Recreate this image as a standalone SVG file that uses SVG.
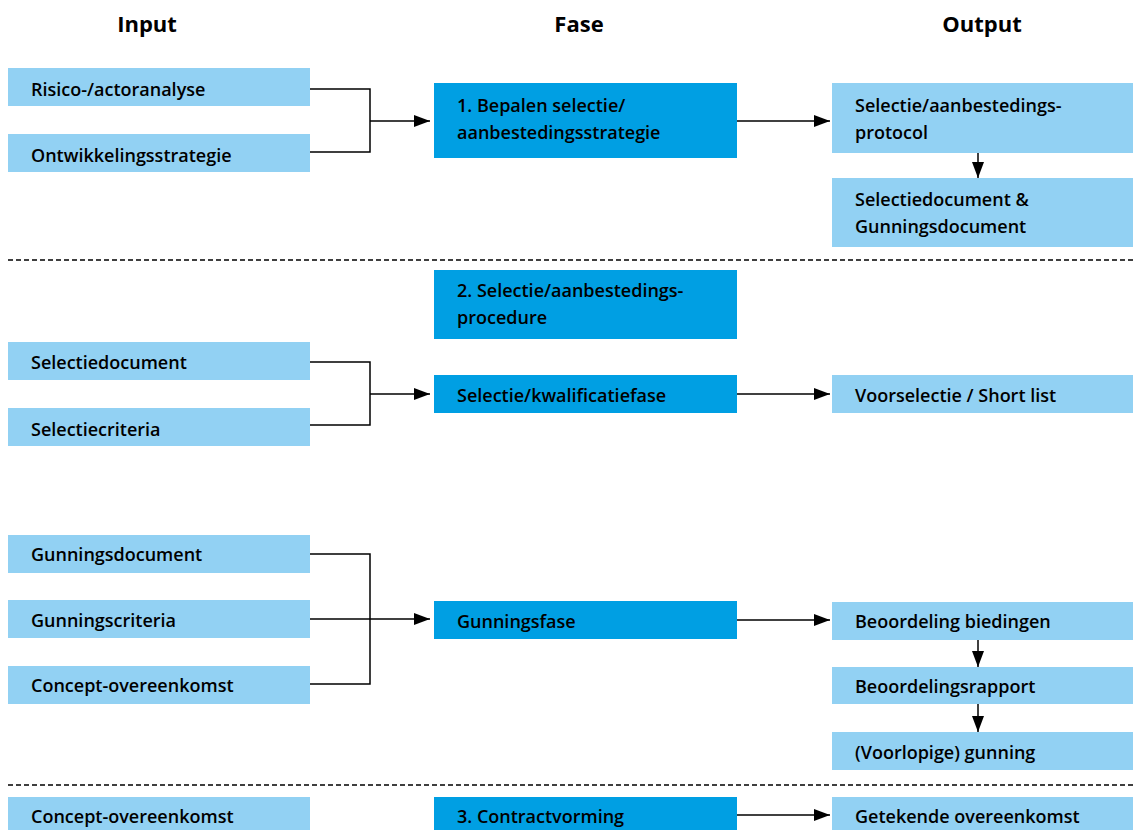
<svg xmlns="http://www.w3.org/2000/svg" width="1133" height="830" viewBox="0 0 1133 830">
<style>
.in{fill:#92d1f3}
.ph{fill:#009fe3}
.t{font-family:"Open Sans","Noto Sans","Liberation Sans",sans-serif;font-weight:600;font-size:18px;fill:#000}
.h{font-family:"Open Sans","Noto Sans","Liberation Sans",sans-serif;font-weight:700;font-size:22px;fill:#000;text-anchor:middle}
.c{fill:none;stroke:#000;stroke-width:1.5}
.d{fill:none;stroke:#000;stroke-width:1.5;stroke-dasharray:5 3}
</style>
<defs>
<marker id="ah" viewBox="0 0 16 12" refX="16" refY="6" markerWidth="16" markerHeight="12" markerUnits="userSpaceOnUse" orient="auto">
<path d="M0,0 L16,6 L0,12 Z" fill="#000"/>
</marker>
</defs>
<rect width="1133" height="830" fill="#fff"/>
<g id="headers">
<text class="h" x="147" y="32">Input</text>
<text class="h" x="579" y="32">Fase</text>
<text class="h" x="982" y="32">Output</text>
</g>
<g id="separators">
<line class="d" x1="8" y1="260" x2="1133" y2="260"/>
<line class="d" x1="8" y1="785" x2="1133" y2="785"/>
</g>
<g id="n-risico"><rect class="in" x="8" y="68" width="302" height="38"/><text class="t" x="31" y="96">Risico-/actoranalyse</text></g>
<g id="n-ontw"><rect class="in" x="8" y="134" width="302" height="38"/><text class="t" x="31" y="162">Ontwikkelingsstrategie</text></g>
<g id="n-fase1"><rect class="ph" x="434" y="83" width="303" height="75"/><text class="t" x="457" y="112">1. Bepalen selectie/</text><text class="t" x="457" y="139">aanbestedingsstrategie</text></g>
<g id="n-protocol"><rect class="in" x="832" y="83" width="301" height="70"/><text class="t" x="855" y="112">Selectie/aanbestedings-</text><text class="t" x="855" y="139">protocol</text></g>
<g id="n-seldoc-out"><rect class="in" x="832" y="178" width="301" height="69"/><text class="t" x="855" y="206">Selectiedocument &amp;</text><text class="t" x="855" y="233">Gunningsdocument</text></g>
<g id="n-fase2"><rect class="ph" x="434" y="270" width="303" height="69"/><text class="t" x="457" y="297">2. Selectie/aanbestedings-</text><text class="t" x="457" y="324">procedure</text></g>
<g id="n-seldoc"><rect class="in" x="8" y="342" width="302" height="38"/><text class="t" x="31" y="369">Selectiedocument</text></g>
<g id="n-selcrit"><rect class="in" x="8" y="408" width="302" height="38"/><text class="t" x="31" y="436">Selectiecriteria</text></g>
<g id="n-kwal"><rect class="ph" x="434" y="375" width="303" height="38"/><text class="t" x="457" y="402">Selectie/kwalificatiefase</text></g>
<g id="n-voorsel"><rect class="in" x="832" y="375" width="301" height="38"/><text class="t" x="855" y="402">Voorselectie / Short list</text></g>
<g id="n-gundoc"><rect class="in" x="8" y="535" width="302" height="38"/><text class="t" x="31" y="561">Gunningsdocument</text></g>
<g id="n-guncrit"><rect class="in" x="8" y="600" width="302" height="38"/><text class="t" x="31" y="627">Gunningscriteria</text></g>
<g id="n-concept"><rect class="in" x="8" y="666" width="302" height="38"/><text class="t" x="31" y="692">Concept-overeenkomst</text></g>
<g id="n-gunfase"><rect class="ph" x="434" y="601" width="303" height="38"/><text class="t" x="457" y="628">Gunningsfase</text></g>
<g id="n-beoord"><rect class="in" x="832" y="602" width="301" height="38"/><text class="t" x="855" y="628">Beoordeling biedingen</text></g>
<g id="n-rapport"><rect class="in" x="832" y="667" width="301" height="37"/><text class="t" x="855" y="693">Beoordelingsrapport</text></g>
<g id="n-gunning"><rect class="in" x="832" y="732" width="301" height="38"/><text class="t" x="855" y="759">(Voorlopige) gunning</text></g>
<g id="n-concept2"><rect class="in" x="8" y="797" width="302" height="40"/><text class="t" x="31" y="823">Concept-overeenkomst</text></g>
<g id="n-fase3"><rect class="ph" x="434" y="797" width="303" height="40"/><text class="t" x="457" y="823">3. Contractvorming</text></g>
<g id="n-getekend"><rect class="in" x="832" y="797" width="301" height="40"/><text class="t" x="855" y="823">Getekende overeenkomst</text></g>
<g id="connectors">
<polyline class="c" points="310,89 370,89 370,152 310,152"/>
<line class="c" x1="370" y1="121" x2="430" y2="121" marker-end="url(#ah)"/>
<line class="c" x1="737" y1="121" x2="830" y2="121" marker-end="url(#ah)"/>
<line class="c" x1="978" y1="153" x2="978" y2="178" marker-end="url(#ah)"/>
<polyline class="c" points="310,362 370,362 370,425 310,425"/>
<line class="c" x1="370" y1="394" x2="430" y2="394" marker-end="url(#ah)"/>
<line class="c" x1="737" y1="394" x2="830" y2="394" marker-end="url(#ah)"/>
<polyline class="c" points="310,554 370,554 370,684 310,684"/>
<line class="c" x1="310" y1="619" x2="430" y2="619" marker-end="url(#ah)"/>
<line class="c" x1="737" y1="620" x2="830" y2="620" marker-end="url(#ah)"/>
<line class="c" x1="978" y1="640" x2="978" y2="667" marker-end="url(#ah)"/>
<line class="c" x1="978" y1="704" x2="978" y2="732" marker-end="url(#ah)"/>
<line class="c" x1="737" y1="815" x2="830" y2="815" marker-end="url(#ah)"/>
</g>
</svg>
